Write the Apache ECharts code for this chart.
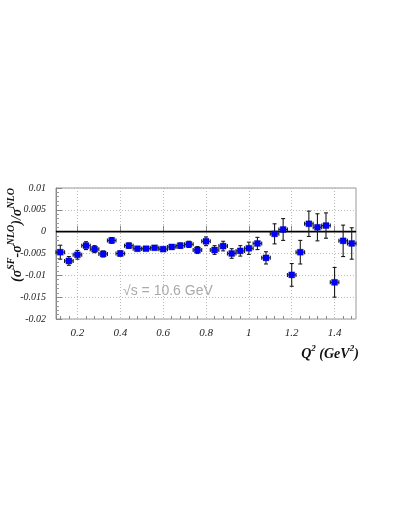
<!DOCTYPE html>
<html>
<head>
<meta charset="utf-8">
<script src="https://cdn.jsdelivr.net/npm/echarts@6/dist/echarts.min.js"></script>
<style>
html,body{margin:0;padding:0;background:#fff;}
#main{width:409px;height:529px;}
</style>
</head>
<body>
<div id="main"></div>
<script>
// Q^2 bin centres (GeV^2)
const q2 = [0.12,0.16,0.20,0.24,0.28,0.32,0.36,0.40,0.44,0.48,0.52,0.56,0.60,0.64,0.68,0.72,0.76,0.80,
            0.84,0.88,0.92,0.96,1.00,1.04,1.08,1.12,1.16,1.20,1.24,1.28,1.32,1.36,1.40,1.44,1.48];
// (sigma^SF - sigma^NLO)/sigma^NLO
const ratio = [-0.0047,-0.0067,-0.0053,-0.0032,-0.0040,-0.0051,-0.0020,-0.0050,-0.0032,-0.0039,-0.0039,-0.0037,-0.0040,-0.0035,-0.0032,-0.0029,-0.0042,-0.0022,
               -0.0042,-0.0033,-0.0050,-0.0044,-0.0038,-0.0027,-0.0060,-0.0005,0.0005,-0.0099,-0.0047,0.0018,0.0010,0.0014,-0.0116,-0.0021,-0.0027];
// vertical error
const ratioErr = [0.0016,0.0010,0.0010,0.0009,0.0008,0.0007,0.00065,0.0006,0.0006,0.0005,0.0003,0.0003,0.0003,0.0005,0.0006,0.0007,0.0008,0.0010,
                  0.0010,0.0011,0.0011,0.0012,0.0014,0.0014,0.0014,0.0023,0.0025,0.0026,0.0027,0.0029,0.0031,0.0029,0.0034,0.0036,0.0036];
// horizontal half bin width
const q2HalfWidth = 0.02;
// tick labels
const xMajorTicks = [0.2,0.4,0.6,0.8,1.0,1.2,1.4];
const xMajorLabels = ['0.2','0.4','0.6','0.8','1','1.2','1.4'];
const xMinorTicks = [0.12,0.16,0.24,0.28,0.32,0.36,0.44,0.48,0.52,0.56,0.64,0.68,0.72,0.76,0.84,0.88,0.92,0.96,1.04,1.08,1.12,1.16,1.24,1.28,1.32,1.36,1.44,1.48];
const yTickLabels = {'0.01':'0.01','0.005':'0.005','0':'0','-0.005':'-0.005','-0.01':'-0.01','-0.015':'-0.015','-0.02':'-0.02'};

const chart = echarts.init(document.getElementById('main'), null, {renderer:'canvas'});

const pts = q2.map((x,i)=>[x, ratio[i], q2HalfWidth, ratioErr[i]]);

function renderErr(params, api){
  const x = api.value(0), y = api.value(1), ex = api.value(2), ey = api.value(3);
  const c = api.coord([x,y]);
  const l = api.coord([x-ex,y]), r = api.coord([x+ex,y]);
  const t = api.coord([x,y+ey]), b = api.coord([x,y-ey]);
  const cap = 2;
  const style = {stroke:'#1a1a1a', lineWidth:1.1, fill:null};
  return {type:'group', children:[
    {type:'line', shape:{x1:l[0],y1:c[1],x2:r[0],y2:c[1]}, style:style},
    {type:'line', shape:{x1:l[0],y1:c[1]-cap,x2:l[0],y2:c[1]+cap}, style:style},
    {type:'line', shape:{x1:r[0],y1:c[1]-cap,x2:r[0],y2:c[1]+cap}, style:style},
    {type:'line', shape:{x1:c[0],y1:t[1],x2:c[0],y2:b[1]}, style:style},
    {type:'line', shape:{x1:c[0]-cap,y1:t[1],x2:c[0]+cap,y2:t[1]}, style:style},
    {type:'line', shape:{x1:c[0]-cap,y1:b[1],x2:c[0]+cap,y2:b[1]}, style:style}
  ]};
}

const tickFont = {fontFamily:'Liberation Serif', fontStyle:'italic', color:'#222'};
const titleRich = (supSize)=>({
  b:{fontFamily:'Liberation Serif', fontStyle:'italic', fontWeight:'bold', fontSize:14, lineHeight:16, verticalAlign:'bottom', fill:'#111'},
  s:{fontFamily:'Liberation Serif', fontStyle:'italic', fontWeight:'bold', fontSize:supSize, lineHeight:supSize, padding:[0,0,8,0], verticalAlign:'bottom', fill:'#111'}
});

const option = {
  backgroundColor:'#fff',
  animation:false,
  grid:{left:56, right:53, top:188, bottom:210, show:true, borderColor:'#999', borderWidth:1, backgroundColor:'transparent'},
  xAxis:[{
    type:'value', min:0.1, max:1.5, position:'bottom',
    axisLine:{show:true, lineStyle:{color:'#888', width:1}},
    axisTick:{show:true, inside:true, length:6, customValues:xMajorTicks, lineStyle:{color:'#888'}},
    axisLabel:{show:true, customValues:xMajorTicks, margin:9, fontSize:11, ...tickFont,
      formatter:(v)=>{const i = xMajorTicks.findIndex(t=>Math.abs(t-v)<1e-6); return i>=0?xMajorLabels[i]:'';}},
    splitLine:{show:true, lineStyle:{color:'#bbb', type:[1,2], width:1}},
    minorTick:{show:false}
  },{
    type:'value', min:0.1, max:1.5, position:'bottom',
    axisLine:{show:false},
    axisTick:{show:true, inside:true, length:3, customValues:xMinorTicks, lineStyle:{color:'#888'}},
    axisLabel:{show:false},
    splitLine:{show:false}
  }],
  yAxis:{
    type:'value', min:-0.02, max:0.01, interval:0.005,
    axisLine:{show:true, lineStyle:{color:'#888', width:1}},
    axisTick:{show:true, inside:true, length:6, lineStyle:{color:'#888'}},
    minorTick:{show:true, splitNumber:5, length:3, lineStyle:{color:'#999'}},
    axisLabel:{margin:10, fontSize:10, ...tickFont,
      formatter:(v)=>{const k = String(+v.toFixed(4)); return yTickLabels[k] !== undefined ? yTickLabels[k] : k;}},
    splitLine:{show:true, lineStyle:{color:'#bbb', type:[1,2], width:1}}
  },
  graphic:[
    {type:'text', x:16, y:235, rotation:Math.PI/2, z:10,
     style:{text:'{b|(σ}{s|SF}{b|-σ}{s|NLO}{b|)/σ}{s|NLO}', align:'center', verticalAlign:'middle', rich:titleRich(10)}},
    {type:'text', x:330, y:353, z:10,
     style:{text:'{b|Q}{s|2}{b| (GeV}{s|2}{b|)}', align:'center', verticalAlign:'middle', rich:titleRich(9)}},
    {type:'text', x:123, y:291, z:10,
     style:{text:'\u221As = 10.6 GeV', fontFamily:'Liberation Sans', fontSize:14, fill:'#aaa', align:'left', verticalAlign:'middle'}}
  ],
  series:[
    {type:'line', data:[[0.1,0],[1.5,0]], symbol:'none', lineStyle:{color:'#000', width:1.6}, z:1, silent:true},
    {type:'custom', renderItem:renderErr, data:pts, encode:{x:0,y:1}, z:2, silent:true},
    {type:'scatter', data:pts.map(p=>[p[0],p[1]]), symbol:'rect', symbolSize:6,
     itemStyle:{color:'#0000ff', borderColor:'#000066', borderWidth:0.3, opacity:1}, z:3}
  ]
};
chart.setOption(option);
</script>
</body>
</html>
